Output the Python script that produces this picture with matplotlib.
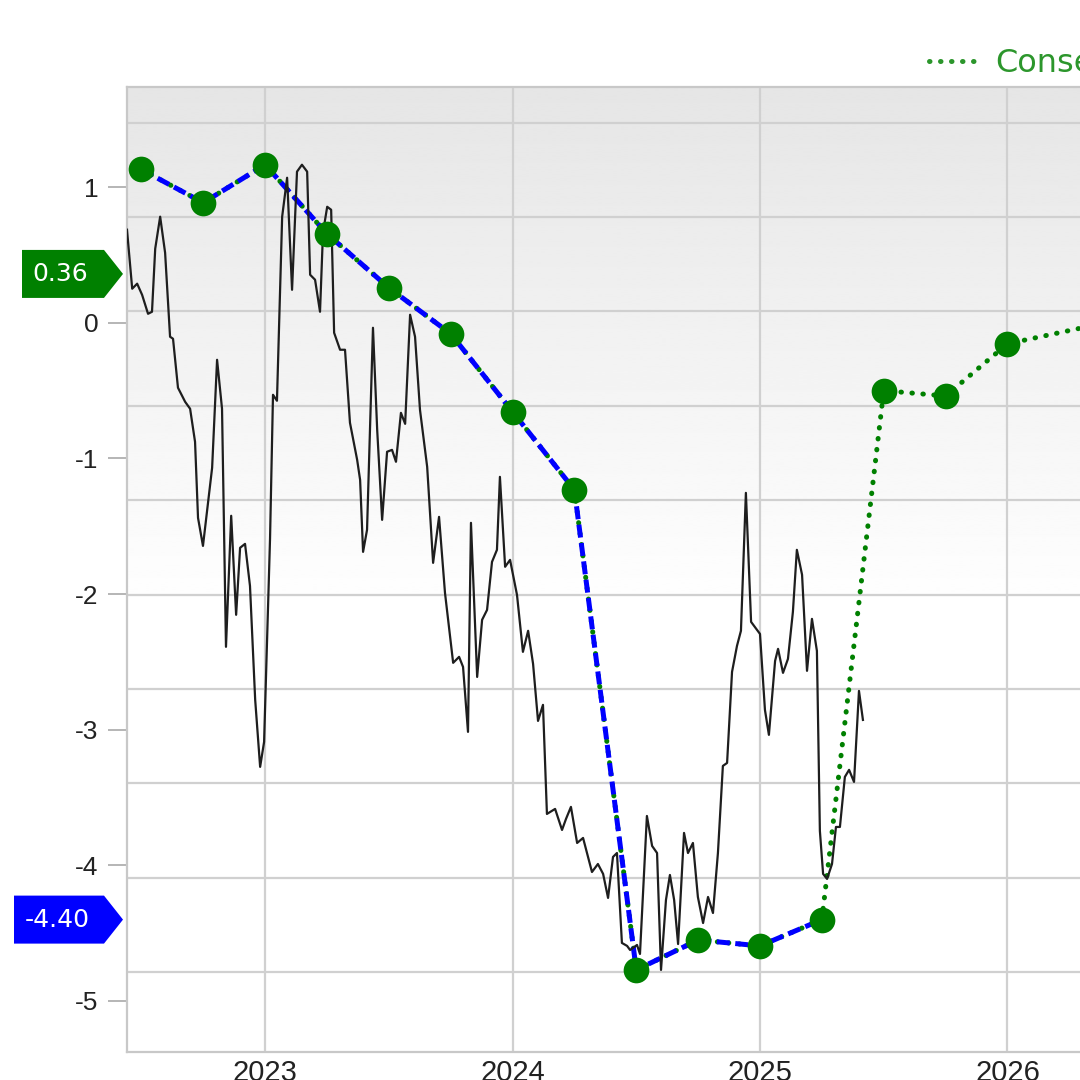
import numpy as np
import matplotlib
matplotlib.use("Agg")
import matplotlib.pyplot as plt
from matplotlib.lines import Line2D
from matplotlib.patches import Polygon

plt.rcParams['font.family'] = ['Liberation Sans', 'DejaVu Sans']
plt.rcParams['axes.unicode_minus'] = False

# ---------------- data ----------------
hist_x = [2022.442, 2022.463, 2022.483, 2022.503, 2022.527, 2022.543, 2022.556, 2022.576, 2022.596, 2022.616,
          2022.628, 2022.648, 2022.677, 2022.697, 2022.717, 2022.729, 2022.749, 2022.766, 2022.786, 2022.806,
          2022.826, 2022.842, 2022.863, 2022.883, 2022.899, 2022.919, 2022.939, 2022.960, 2022.980, 2022.996,
          2023.020, 2023.032, 2023.048, 2023.069, 2023.089, 2023.109, 2023.129, 2023.149, 2023.170, 2023.182,
          2023.202, 2023.222, 2023.234, 2023.251, 2023.267, 2023.279, 2023.303, 2023.323, 2023.343, 2023.372,
          2023.384, 2023.396, 2023.412, 2023.436, 2023.453, 2023.473, 2023.493, 2023.513, 2023.529, 2023.549,
          2023.566, 2023.586, 2023.606, 2023.626, 2023.655, 2023.679, 2023.703, 2023.727, 2023.760, 2023.784,
          2023.800, 2023.820, 2023.832, 2023.857, 2023.877, 2023.897, 2023.917, 2023.937, 2023.949, 2023.970,
          2023.990, 2024.018, 2024.042, 2024.063, 2024.083, 2024.103, 2024.123, 2024.139, 2024.172, 2024.200,
          2024.216, 2024.236, 2024.261, 2024.285, 2024.321, 2024.345, 2024.366, 2024.386, 2024.406, 2024.422,
          2024.442, 2024.463, 2024.475, 2024.503, 2024.515, 2024.543, 2024.564, 2024.584, 2024.600, 2024.620,
          2024.636, 2024.653, 2024.669, 2024.693, 2024.709, 2024.729, 2024.749, 2024.770, 2024.790, 2024.810,
          2024.830, 2024.850, 2024.867, 2024.887, 2024.907, 2024.923, 2024.943, 2024.964, 2025.000, 2025.020,
          2025.036, 2025.061, 2025.073, 2025.093, 2025.113, 2025.133, 2025.149, 2025.170, 2025.190, 2025.210,
          2025.230, 2025.242, 2025.255, 2025.271, 2025.291, 2025.307, 2025.323, 2025.343, 2025.360, 2025.380,
          2025.400, 2025.416]
hist_y = [0.686, 0.251, 0.288, 0.206, 0.066, 0.081, 0.546, 0.782, 0.516, -0.103,
          -0.118, -0.479, -0.583, -0.634, -0.878, -1.438, -1.645, -1.379, -1.069, -0.273,
          -0.634, -2.389, -1.423, -2.153, -1.659, -1.630, -1.940, -2.780, -3.274, -3.090,
          -1.593, -0.531, -0.575, 0.782, 1.069, 0.243, 1.114, 1.165, 1.114, 0.354,
          0.317, 0.081, 0.664, 0.855, 0.833, -0.074, -0.199, -0.199, -0.737, -1.010,
          -1.158, -1.689, -1.527, -0.037, -0.789, -1.453, -0.951, -0.937, -1.025, -0.664,
          -0.745, 0.059, -0.103, -0.642, -1.062, -1.770, -1.431, -1.991, -2.507, -2.463,
          -2.537, -3.016, -1.475, -2.611, -2.190, -2.117, -1.763, -1.674, -1.136, -1.799,
          -1.748, -2.006, -2.426, -2.271, -2.515, -2.935, -2.817, -3.621, -3.584, -3.739,
          -3.658, -3.569, -3.835, -3.798, -4.049, -3.990, -4.063, -4.240, -3.938, -3.909,
          -4.572, -4.594, -4.624, -4.587, -4.653, -3.636, -3.857, -3.909, -4.771, -4.255,
          -4.071, -4.255, -4.580, -3.761, -3.909, -3.835, -4.233, -4.425, -4.233, -4.351,
          -3.909, -3.267, -3.245, -2.574, -2.382, -2.271, -1.254, -2.205, -2.294, -2.854,
          -3.038, -2.493, -2.404, -2.581, -2.478, -2.131, -1.674, -1.858, -2.566, -2.183,
          -2.419, -3.746, -4.063, -4.100, -3.990, -3.717, -3.717, -3.348, -3.296, -3.385,
          -2.714, -2.928]

est_x = [2022.5, 2022.75, 2023.0, 2023.25, 2023.5, 2023.75, 2024.0, 2024.25, 2024.5, 2024.75, 2025.0, 2025.25]
est_y = [1.13, 0.885, 1.165, 0.656, 0.258, -0.081, -0.656, -1.232, -4.771, -4.55, -4.594, -4.40]
cons_x = [2025.25, 2025.5, 2025.75, 2026.0, 2026.5]
cons_y = [-4.40, -0.50, -0.54, -0.155, 0.04]

year_ticks = [2023, 2024, 2025, 2026]
value_ticks = [1, 0, -1, -2, -3, -4, -5]
legend_label = "Consensus"
green_flag_value = 0.36
blue_flag_value = -4.40

# ---------------- figure ----------------
W = 1080
fig = plt.figure(figsize=(10.8, 10.8), dpi=100)
fig.patch.set_facecolor('white')
ax = fig.add_axes([127 / W, 28 / W, (1100 - 127) / W, 965 / W])

# gradient background
frac = np.linspace(0, 1, 400)[:, None]          # 0 bottom -> 1 top
shade = np.where(frac > 0.45, 1.0 - 0.10 * (frac - 0.45) / 0.55, 1.0)
ax.imshow(shade, cmap='gray', vmin=0, vmax=1, origin='lower', extent=(0, 1, 0, 1),
          transform=ax.transAxes, aspect='auto', zorder=0.1, interpolation='bilinear')

all_x = est_x + cons_x[1:]
all_y = est_y + cons_y[1:]

green = '#008000'
ax.plot(all_x, all_y, color=green, lw=3.6, linestyle=(0, (0.1, 2.1)),
        dash_capstyle='round', zorder=2)
ax.plot(est_x, est_y, color='#0000ff', lw=3.6, linestyle=(0, (2.6, 1.1)),
        dash_capstyle='butt', zorder=3)
ax.plot(hist_x, hist_y, color='#1e1e1e', lw=1.6, zorder=4)
ax.plot(all_x, all_y, linestyle='none', marker='o', ms=18.5, color=green,
        markeredgewidth=0, zorder=5)

ax.set_xlim(2022.442, 2026.374)
ax.set_ylim(-5.376, 1.738)

ax.set_xticks(year_ticks)
ax.set_xticklabels([str(y) for y in year_ticks])
ax.set_yticks(value_ticks)
ax.set_yticklabels([str(v) for v in value_ticks])

grid_y = np.linspace(1.475, -4.786, 10)
ax.set_yticks(grid_y, minor=True)
ax.set_axisbelow(True)
ax.grid(which='minor', axis='y', color='#d0d0d0', lw=1.6)
ax.grid(which='major', axis='x', color='#d0d0d0', lw=1.6)
ax.grid(which='major', axis='y', visible=False)

ax.tick_params(axis='y', which='major', length=13.7, width=1.3, color='#b0b0b0',
               pad=7, labelsize=19, labelcolor='#222222')
ax.tick_params(axis='y', which='minor', length=0)
ax.tick_params(axis='x', which='major', length=0, pad=5, labelsize=21, labelcolor='#222222')

for s in ['left', 'top', 'bottom']:
    ax.spines[s].set_color('#c8c8c8')
    ax.spines[s].set_linewidth(1.6)
ax.spines['right'].set_visible(False)

# legend (clipped at the right edge like the reference)
handle = Line2D([], [], color='#2c962c', lw=3.6, linestyle=(0, (0.1, 2.1)), dash_capstyle='round')
fig.legend(handles=[handle], labels=[legend_label], loc='center left',
           bbox_to_anchor=(929 / W, 1 - 64 / W), frameon=False,
           prop={'family': 'DejaVu Sans', 'size': 23}, labelcolor='#2c962c',
           handlelength=1.7, handletextpad=0.38, borderpad=0, borderaxespad=0)

# flag labels on the y axis
def flag(value, text, color, x_left, text_x):
    yc = ax.transData.transform((2023, value))[1]
    h = 24
    pts = [(x_left, yc - h), (104, yc - h), (123, yc), (104, yc + h), (x_left, yc + h)]
    pts = [(px / W, py / W) for px, py in pts]
    fig.add_artist(Polygon(pts, closed=True, transform=fig.transFigure,
                           facecolor=color, edgecolor='none'))
    fig.text(text_x / W, yc / W, text, color='white', ha='center', va='center',
             fontsize=18, family='DejaVu Sans')

flag(green_flag_value, f"{green_flag_value:.2f}", green, 22, 60)
flag(blue_flag_value, f"{blue_flag_value:.2f}", '#0000ff', 14, 57)

fig.savefig('out.png', dpi=100)
